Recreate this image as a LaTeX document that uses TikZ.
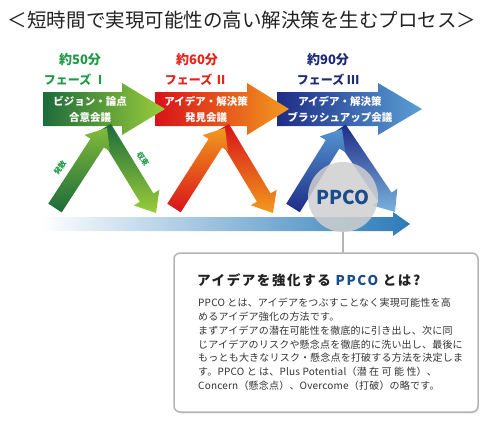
\documentclass[tikz,border=0pt]{standalone}
\usepackage{fontspec}
\setmainfont{Noto Sans CJK JP}
\usetikzlibrary{calc,shadows}

\definecolor{titlegray}{HTML}{222222}
\definecolor{bodygray}{HTML}{333333}
\definecolor{greentext}{HTML}{1F9A46}
\definecolor{redtext}{HTML}{E5231B}
\definecolor{navytext}{HTML}{1C2A78}
\definecolor{greenA}{HTML}{1D6B3B}
\definecolor{greenB}{HTML}{9ACD3A}
\definecolor{redA}{HTML}{D8121B}
\definecolor{redB}{HTML}{F29A1D}
\definecolor{blueA}{HTML}{1E2C86}
\definecolor{blueB}{HTML}{5A9FD6}
\definecolor{bandblue}{HTML}{2B7BB9}
\definecolor{bandlight}{HTML}{B5D0E8}
\definecolor{ppcoblue}{HTML}{1A4B8C}
\definecolor{framegray}{HTML}{B4B4B4}

% tail, tip, half width, half head width, head length, path options
\newcommand\flowarrow[6]{%
  \coordinate (fa-h) at ($(#2)!#5!(#1)$);
  \path[#6] ($(#1)!#3!90:(#2)$) -- ($(fa-h)!#3!90:(#2)$) -- ($(fa-h)!#4!90:(#2)$) -- (#2)
    -- ($(fa-h)!#4!-90:(#2)$) -- ($(fa-h)!#3!-90:(#2)$) -- ($(#1)!#3!-90:(#2)$) -- cycle;}

\tikzset{
  phasetime/.style={font=\fontsize{13}{13}\selectfont\bfseries},
  phasename/.style={font=\fontsize{12}{12}\selectfont\bfseries},
  arrowtext/.style={text=white, align=center, font=\fontsize{10.5}{16}\selectfont\bfseries},
  legnote/.style={text=greentext, font=\fontsize{7.5}{7.5}\selectfont\bfseries, inner sep=0pt},
  bodyline/.style={anchor=west, inner sep=0pt, text=bodygray,
    font=\fontsize{10}{10}\selectfont\addfontfeature{LetterSpace=2}},
}

\begin{document}
\begin{tikzpicture}[x=1pt, y=-1pt, line join=round, line cap=round]
\useasboundingbox (0,0) rectangle (500,429);
\path
(43,109) coordinate (G1) (165,109) coordinate (G2)
(155,109) coordinate (R1) (289,109) coordinate (R2)
(277,109) coordinate (B1) (422,109) coordinate (B2)
(55,208) coordinate (GL) (107,128) coordinate (GT) (104,128) coordinate (GS) (156,213) coordinate (GR)
(174,208) coordinate (RL) (225,128) coordinate (RT) (222,128) coordinate (RS) (273,213) coordinate (RR)
(293,208) coordinate (BL) (342,129) coordinate (BT) (339,129) coordinate (BS) (395,212) coordinate (BR)
(40,224) coordinate (L1) (410,224) coordinate (L2)
;

\node[titlegray, font=\fontsize{19.5}{20}\selectfont] (title) at (242,20) {＜短時間で実現可能性の高い解決策を生むプロセス＞};

\flowarrow{B1}{B2}{17pt}{26pt}{44pt}{left color=blueA, right color=blueB}
\flowarrow{R1}{R2}{17pt}{26pt}{42pt}{left color=redA, right color=redB}
\flowarrow{G1}{G2}{17pt}{26pt}{43pt}{left color=greenA, right color=greenB}

\flowarrow{GS}{GR}{8pt}{15pt}{18pt}{top color=greenA, bottom color=greenB}
\flowarrow{GL}{GT}{8pt}{15pt}{18pt}{bottom color=greenA, top color=greenB!80!greenA}
\flowarrow{RS}{RR}{8pt}{15pt}{18pt}{top color=redA, bottom color=redB}
\flowarrow{RL}{RT}{8pt}{15pt}{18pt}{bottom color=redA, top color=redB}
\flowarrow{BS}{BR}{8pt}{15pt}{18pt}{top color=blueA, bottom color=blueB!80!white}
\flowarrow{BL}{BT}{8pt}{15pt}{18pt}{bottom color=blueA, top color=blueB!90!blueA}

\flowarrow{L1}{L2}{7pt}{12pt}{17pt}{left color=white, middle color=bandlight, right color=bandblue}

\node[phasetime, greentext] (t1) at (80,60) {約50分};
\node[phasename, greentext] (p1) at (75,80) {フェーズ Ⅰ};
\node[phasetime, redtext] (t2) at (197,60) {約60分};
\node[phasename, redtext] (p2) at (196,80) {フェーズ Ⅱ};
\node[phasetime, navytext] (t3) at (328,60) {約90分};
\node[phasename, navytext] (p3) at (328,80) {フェーズ Ⅲ};

\node[arrowtext] (a1) at (90,109) {ビジョン・論点\\合意会議};
\node[arrowtext] (a2) at (206,109) {アイデア・解決策\\発見会議};
\node[arrowtext] (a3) at (340,109) {アイデア・解決策\\ブラッシュアップ会議};

\node[legnote, rotate=56] (n1) at (60,168) {発散};
\node[legnote, rotate=-56] (n2) at (143,159) {収束};

\node[circle, minimum size=70pt, fill=gray!38, fill opacity=0.85, text opacity=1,
  text=ppcoblue, font=\fontsize{19}{19}\selectfont\bfseries] (ppco) at (343,197) {PPCO};

\node[draw=framegray, line width=1.5pt, rounded corners=6pt, fill=white,
  minimum width=304pt, minimum height=159pt,
  drop shadow={shadow xshift=1pt, shadow yshift=-1.5pt, fill=gray!35}] (about) at (326,332.5) {};
\draw[framegray, line width=1.5pt] (ppco.south) -- (ppco.south |- about.north);

\node[anchor=west, inner sep=0pt, text=titlegray,
  font=\fontsize{13.5}{14}\selectfont\bfseries\addfontfeature{LetterSpace=12}] (head)
  at (197,280) {アイデアを強化する \textcolor{ppcoblue}{PPCO} とは?};
\foreach \i/\txt in {0/PPCO とは、アイデアをつぶすことなく実現可能性を高,
  1/めるアイデア強化の方法です。,
  2/まずアイデアの潜在可能性を徹底的に引き出し、次に同,
  3/じアイデアのリスクや懸念点を徹底的に洗い出し、最後に,
  4/もっとも大きなリスク・懸念点を打破する方法を決定しま,
  5/す。PPCO と は、Plus Potential（潜 在 可 能 性）、,
  6/Concern（懸念点）、Overcome（打破）の略です。}
  \node[bodyline] (line\i) at (198,303+13.8*\i) {\txt};
\end{tikzpicture}
\end{document}
